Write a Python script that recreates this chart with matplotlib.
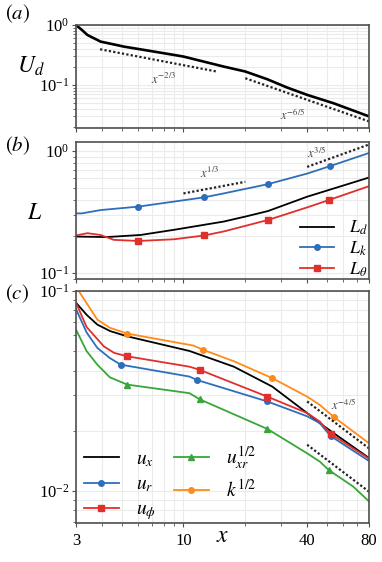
import matplotlib
matplotlib.use("Agg")
import matplotlib.pyplot as plt
from matplotlib.ticker import FixedLocator, NullFormatter, LogLocator, FixedFormatter

plt.rcParams['font.family'] = ['Liberation Serif', 'DejaVu Serif']
plt.rcParams['mathtext.fontset'] = 'stix'

# ---------------- data ----------------
# panel (a)
ud_x = [3.0, 3.2, 3.41, 3.95, 5.14, 7.0, 9.0, 10.0, 15.7, 20.0, 25.6, 32.0, 40.0, 54.0, 80.0]
ud_y = [1.0, 0.83, 0.681, 0.528, 0.435, 0.365, 0.316, 0.297, 0.202, 0.167, 0.124, 0.090, 0.068, 0.049, 0.0297]
ga1_x = [3.93, 14.5]
ga1_y = [0.393, 0.167]
ga2_x = [20.0, 80.0]
ga2_y = [0.129, 0.0245]

# panel (b)
ld_x = [3.0, 4.24, 6.18, 9.0, 15.7, 20.0, 25.8, 40.0, 80.0]
ld_y = [0.199, 0.197, 0.205, 0.226, 0.264, 0.290, 0.322, 0.422, 0.606]
lk_x = [3.0, 3.2, 3.95, 6.03, 12.6, 15.7, 25.8, 40.0, 51.5, 80.0]
lk_y = [0.308, 0.308, 0.328, 0.350, 0.417, 0.449, 0.535, 0.653, 0.750, 0.963]
lk_marks = [3, 4, 6, 8]
lt_x = [3.0, 3.41, 3.95, 4.58, 6.03, 9.0, 12.6, 15.7, 25.8, 40.0, 51.0, 80.0]
lt_y = [0.203, 0.212, 0.205, 0.187, 0.183, 0.189, 0.203, 0.219, 0.272, 0.345, 0.396, 0.515]
lt_marks = [4, 6, 8, 10]
gb1_x = [10.0, 20.0]
gb1_y = [0.449, 0.559]
gb2_x = [40.0, 80.0]
gb2_y = [0.741, 1.13]

# panel (c)
ux_x = [3.0, 3.38, 3.81, 4.4, 5.33, 10.7, 17.6, 27.1, 40.0, 46.1, 54.0, 80.0]
ux_y = [0.0874, 0.0760, 0.0679, 0.0630, 0.0593, 0.0501, 0.0418, 0.0332, 0.0245, 0.0218, 0.0194, 0.0146]
ur_x = [3.0, 3.38, 3.81, 4.38, 4.95, 10.7, 11.6, 25.6, 40.0, 46.1, 52.0, 80.0]
ur_y = [0.0812, 0.0620, 0.0519, 0.0462, 0.0428, 0.0373, 0.0359, 0.0280, 0.0236, 0.0218, 0.0188, 0.0141]
ur_marks = [4, 6, 7, 10]
up_x = [3.0, 3.38, 4.1, 4.6, 5.33, 10.7, 12.0, 25.6, 40.0, 46.1, 52.0, 80.0]
up_y = [0.0874, 0.0660, 0.0528, 0.0490, 0.0471, 0.0418, 0.0403, 0.0296, 0.0245, 0.0222, 0.0193, 0.0145]
up_marks = [4, 6, 7, 10]
uxr_x = [3.0, 3.38, 3.81, 4.38, 5.33, 10.7, 12.0, 25.6, 40.0, 46.1, 51.0, 67.0, 80.0]
uxr_y = [0.0641, 0.0500, 0.0428, 0.0370, 0.0340, 0.0308, 0.0287, 0.0204, 0.0154, 0.0140, 0.0127, 0.0105, 0.00885]
uxr_marks = [4, 6, 7, 10]
k_x = [3.0, 3.1, 3.81, 4.38, 5.33, 11.2, 12.5, 17.6, 27.1, 40.0, 46.1, 54.0, 80.0]
k_y = [0.105, 0.0996, 0.0719, 0.0655, 0.0612, 0.0533, 0.0507, 0.0445, 0.0366, 0.0296, 0.0269, 0.0234, 0.0173]
k_marks = [4, 6, 8, 11]
gc1_x = [40.0, 80.0]
gc1_y = [0.028, 0.0163]
gc2_x = [40.0, 80.0]
gc2_y = [0.017, 0.0099]

xticks = [3, 10, 40, 80]
xticklabels = ['3', '10', '40', '80']

# ---------------- style ----------------
BLUE = '#2f6fba'
RED = '#e0302c'
GREEN = '#38a639'
ORANGE = '#ff8b1a'
SPINE = '#505050'
GRID = '#ebebeb'

fig = plt.figure(figsize=(3.82, 5.62), dpi=100)
W, H = 382.0, 562.0
left, right = 76 / W, 369 / W


def mkax(top, bottom):
    return fig.add_axes([left, 1 - bottom / H, right - left, (bottom - top) / H])


axa = mkax(25, 128)
axb = mkax(142, 279)
axc = mkax(291, 523)

for ax in (axa, axb, axc):
    ax.set_xscale('log')
    ax.set_yscale('log')
    ax.set_xlim(3, 80)
    for s in ax.spines.values():
        s.set_color(SPINE)
        s.set_linewidth(1.2)
    ax.xaxis.set_major_locator(FixedLocator(xticks))
    ax.xaxis.set_minor_locator(LogLocator(base=10, subs=range(2, 10), numticks=20))
    ax.xaxis.set_minor_formatter(NullFormatter())
    ax.yaxis.set_minor_locator(LogLocator(base=10, subs=range(2, 10), numticks=20))
    ax.yaxis.set_minor_formatter(NullFormatter())
    ax.grid(True, which='both', color=GRID, lw=0.8)
    ax.set_axisbelow(True)
    ax.tick_params(which='major', direction='out', length=3, width=0.8, color=SPINE,
                   labelsize=12, pad=2)
    ax.tick_params(which='minor', direction='out', length=2, width=0.6, color=SPINE)

axa.xaxis.set_major_formatter(NullFormatter())
axb.xaxis.set_major_formatter(NullFormatter())
axc.xaxis.set_major_formatter(FixedFormatter(xticklabels))
axc.tick_params(axis='x', which='major', labelsize=12, pad=4)

axa.set_ylim(0.019, 1.0)
axb.set_ylim(0.0893, 1.185)
axc.set_ylim(0.0069, 0.1)

GCOL = '#222222'
# panel (a)
axa.plot(ud_x, ud_y, color='black', lw=1.9)
axa.plot(ga1_x, ga1_y, color=GCOL, lw=1.6, ls=(0, (1, 1)))
axa.plot(ga2_x, ga2_y, color=GCOL, lw=1.6, ls=(0, (1, 1)))
axa.text(8.0, 0.121, r'$x^{-2/3}$', fontsize=9, color='#444444', ha='center', va='center')
axa.text(34.2, 0.0316, r'$x^{-6/5}$', fontsize=9, color='#444444', ha='center', va='center')
axa.set_ylabel(r'$U_d$', fontsize=17, rotation=0, va='center', ha='center')
axa.yaxis.set_label_coords(-0.155, 0.6)

# panel (b)
axb.plot(ld_x, ld_y, color='black', lw=1.3, label=r'$L_d$')
axb.plot(lk_x, lk_y, color=BLUE, lw=1.3, marker='o', ms=4, markevery=lk_marks, label=r'$L_k$')
axb.plot(lt_x, lt_y, color=RED, lw=1.3, marker='s', ms=4, markevery=lt_marks, label=r'$L_\theta$')
axb.plot(gb1_x, gb1_y, color=GCOL, lw=1.6, ls=(0, (1, 1)))
axb.plot(gb2_x, gb2_y, color=GCOL, lw=1.6, ls=(0, (1, 1)))
axb.text(13.4, 0.653, r'$x^{1/3}$', fontsize=9, color='#444444', ha='center', va='center')
axb.text(44.4, 0.963, r'$x^{3/5}$', fontsize=9, color='#444444', ha='center', va='center')
axb.set_ylabel(r'$L$', fontsize=17, rotation=0, va='center', ha='center')
axb.yaxis.set_label_coords(-0.14, 0.48)
axb.legend(loc='lower left', bbox_to_anchor=(0.74, -0.05), frameon=False, fontsize=13,
           handlelength=1.9, labelspacing=0.12, borderaxespad=0.0, handletextpad=0.8)

# panel (c)
axc.plot(ux_x, ux_y, color='black', lw=1.3, label=r'$u_x$')
axc.plot(ur_x, ur_y, color=BLUE, lw=1.3, marker='o', ms=4, markevery=ur_marks, label=r'$u_r$')
axc.plot(up_x, up_y, color=RED, lw=1.3, marker='s', ms=4, markevery=up_marks, label=r'$u_\phi$')
axc.plot(uxr_x, uxr_y, color=GREEN, lw=1.3, marker='^', ms=4.5, markevery=uxr_marks,
         label=r'$u_{xr}^{1/2}$')
axc.plot(k_x, k_y, color=ORANGE, lw=1.3, marker='o', ms=4, markevery=k_marks, label=r'$k^{1/2}$')
axc.plot(gc1_x, gc1_y, color=GCOL, lw=1.6, ls=(0, (1, 1)))
axc.plot(gc2_x, gc2_y, color=GCOL, lw=1.6, ls=(0, (1, 1)))
axc.text(60, 0.027, r'$x^{-4/5}$', fontsize=9, color='#444444', ha='center', va='center')
axc.set_xlabel(r'$x$', fontsize=17, labelpad=-16)
axc.legend(loc='lower left', bbox_to_anchor=(0.0, -0.03), ncol=2, frameon=False, fontsize=14,
           handlelength=1.8, labelspacing=0.35, borderaxespad=0.0, handletextpad=0.9,
           columnspacing=0.9)

# panel labels
fig.text(5 / W, 1 - 14 / H, r'$(a)$', fontsize=15, va='center', ha='left')
fig.text(5 / W, 1 - 146 / H, r'$(b)$', fontsize=15, va='center', ha='left')
fig.text(5 / W, 1 - 294 / H, r'$(c)$', fontsize=15, va='center', ha='left')

fig.savefig('out.png', dpi=100)
